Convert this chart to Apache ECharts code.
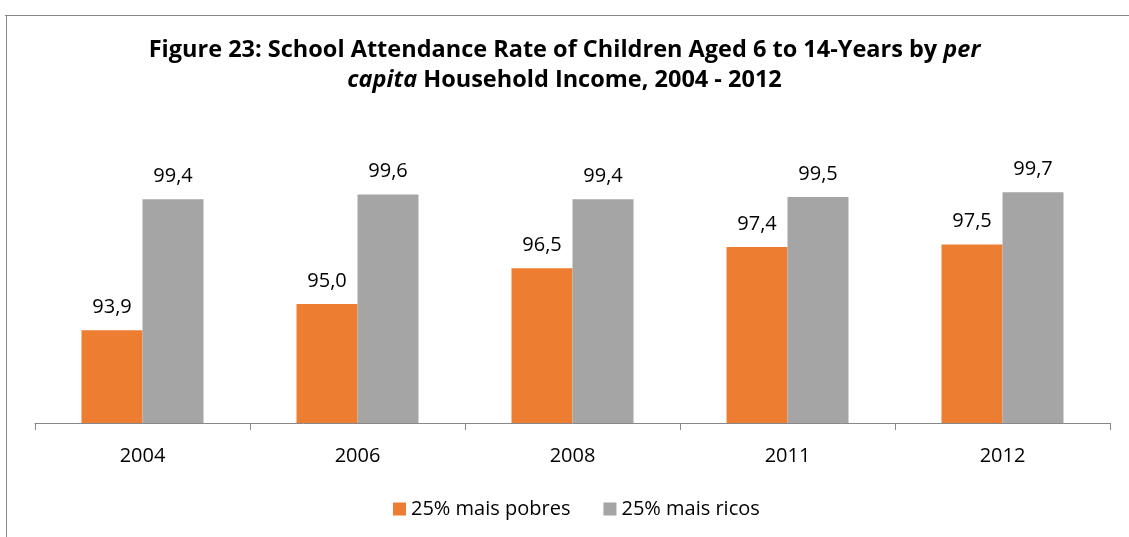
<!DOCTYPE html>
<html>
<head>
<meta charset="utf-8">
<title>Figure 23</title>
<script src="https://cdn.jsdelivr.net/npm/echarts@6/dist/echarts.min.js"></script>
<style>
  html, body { margin: 0; padding: 0; background: #fff; }
  #chart { width: 1129px; height: 537px; }
</style>
</head>
<body>
<div id="chart"></div>
<script>
// data
const years = ['2004', '2006', '2008', '2011', '2012']
const poorest = [93.9, 95.0, 96.5, 97.4, 97.5]
const richest = [99.4, 99.6, 99.4, 99.5, 99.7]
const seriesNames = ['25% mais pobres', '25% mais ricos']

const font = '"Open Sans", "DejaVu Sans", sans-serif'
const fmt = p => p.value.toFixed(1).replace('.', ',')

const chart = echarts.init(document.getElementById('chart'))

const titleStyle = {
  fontFamily: font,
  fontSize: 23.5,
  fontWeight: 'bold',
  color: '#000',
  rich: {
    i: { fontFamily: font, fontSize: 23.5, fontWeight: 'bold', fontStyle: 'italic', color: '#000' }
  }
}

const option = {
  animation: false,
  title: [
    {
      text: 'Figure 23: School Attendance Rate of Children Aged 6 to 14-Years by {i|per}',
      left: 'center',
      top: 38,
      padding: 0,
      textStyle: titleStyle
    },
    {
      text: '{i|capita} Household Income, 2004 - 2012',
      left: 'center',
      top: 68,
      padding: 0,
      textStyle: titleStyle
    }
  ],
  graphic: [
    {
      type: 'line',
      shape: { x1: 5, y1: 15.5, x2: 1129, y2: 15.5 },
      style: { stroke: '#888', lineWidth: 1 }
    },
    {
      type: 'line',
      shape: { x1: 6.5, y1: 15, x2: 6.5, y2: 537 },
      style: { stroke: '#888', lineWidth: 1 }
    }
  ],
  legend: {
    data: seriesNames,
    left: 388,
    top: 494,
    itemWidth: 13,
    itemHeight: 13,
    itemGap: 33,
    icon: 'rect',
    textStyle: { fontFamily: font, fontSize: 20, color: '#000' }
  },
  grid: {
    left: 35,
    right: 19,
    top: 185,
    bottom: 114
  },
  xAxis: {
    type: 'category',
    data: years,
    axisLine: { show: true, lineStyle: { color: '#888', width: 1 } },
    axisTick: { show: true, alignWithLabel: false, interval: 0, length: 7, lineStyle: { color: '#888', width: 1 } },
    axisLabel: { fontFamily: font, fontSize: 20, color: '#000', margin: 23 }
  },
  yAxis: {
    type: 'value',
    min: 90,
    max: 100,
    show: false,
    splitLine: { show: false }
  },
  series: [
    {
      name: seriesNames[0],
      type: 'bar',
      data: poorest,
      barWidth: 61,
      barGap: '0%',
      itemStyle: { color: '#ED7D31' },
      label: {
        show: true,
        position: 'top',
        distance: 13,
        formatter: fmt,
        fontFamily: font,
        fontSize: 20,
        color: '#000'
      }
    },
    {
      name: seriesNames[1],
      type: 'bar',
      data: richest,
      barWidth: 61,
      barGap: '0%',
      itemStyle: { color: '#A5A5A5' },
      label: {
        show: true,
        position: 'top',
        distance: 13,
        formatter: fmt,
        fontFamily: font,
        fontSize: 20,
        color: '#000'
      }
    }
  ]
}

chart.setOption(option)
</script>
</body>
</html>
